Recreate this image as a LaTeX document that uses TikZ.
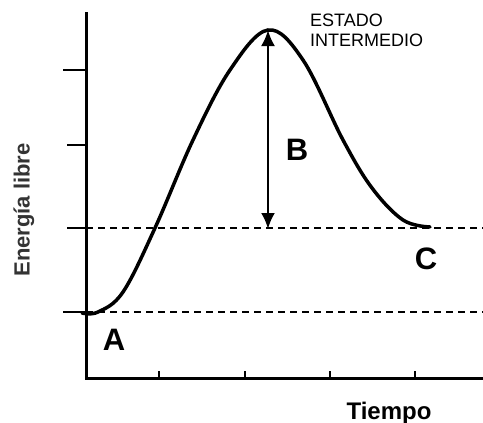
\documentclass[tikz,border=0pt]{standalone}
\usepackage{fontspec}
\setmainfont{Liberation Sans}
\usetikzlibrary{arrows.meta,positioning}
\tikzstyle{axis} = [line width=3pt]
\tikzstyle{tick} = [line width=2pt]
\tikzstyle{eqline} = [line width=2pt,dash pattern=on 7pt off 5pt]
\tikzstyle{profile} = [line width=3.5pt,line cap=round]
\tikzstyle{state} = [font=\bfseries\fontsize{31}{33}\selectfont,inner sep=0]
\tikzstyle{barrier} = [{Latex[length=16pt,width=14pt]}-{Latex[length=16pt,width=14pt]},line width=2.5pt]
\def \tk {7pt}

\begin{document}
\begin{tikzpicture}[x=1pt,y=-1pt]
  \useasboundingbox (0,0) rectangle (483,423);
  % axes
  \coordinate (origin) at (86,378);
  \coordinate (ytop) at (86,12);
  \coordinate (xend) at (483,378);
  \draw[axis] (ytop) -- (origin) -- (xend);
  \foreach \y/\l in {70/63,145/67,228/67,312/63}
    \draw[tick] (\l,\y) -- (86,\y);
  \foreach \x in {159,245,330,415}
    \draw[tick] (\x,378) -- +(0,\tk);
  % levels
  \coordinate (lowL) at (86,312);
  \coordinate (lowR) at (483,312);
  \coordinate (highL) at (86,228);
  \coordinate (highR) at (483,228);
  \draw[eqline] (lowL) -- (lowR);
  \draw[eqline] (highL) -- (highR);
  % energy profile
  \draw[profile] plot[smooth,tension=0.6] coordinates {(82,313) (98,312) (123,292) (155,228) (193,140) (230,70) (268,30) (303,60) (343,140) (372,188) (403,220) (430,227)};
  % barrier
  \coordinate (peak) at (268,30);
  \coordinate (base) at (268,229);
  \draw[barrier] (peak) -- (base);
  % labels
  \node[state] (A) at (114,340) {A};
  \node[state] (B) at (297,150) {B};
  \node[state] (C) at (426,259) {C};
  \node[anchor=north west,inner sep=0,align=left,font=\fontsize{18}{19.5}\selectfont] (inter) at (310,14) {ESTADO\\INTERMEDIO};
  \node[anchor=base,font=\bfseries\fontsize{24}{26}\selectfont] (tiempo) at (389,419) {Tiempo};
  \node[rotate=90,inner sep=0,text=black!80,font=\bfseries\fontsize{22}{24}\selectfont] (energia) at (24,210) {Energía libre};
\end{tikzpicture}
\end{document}
